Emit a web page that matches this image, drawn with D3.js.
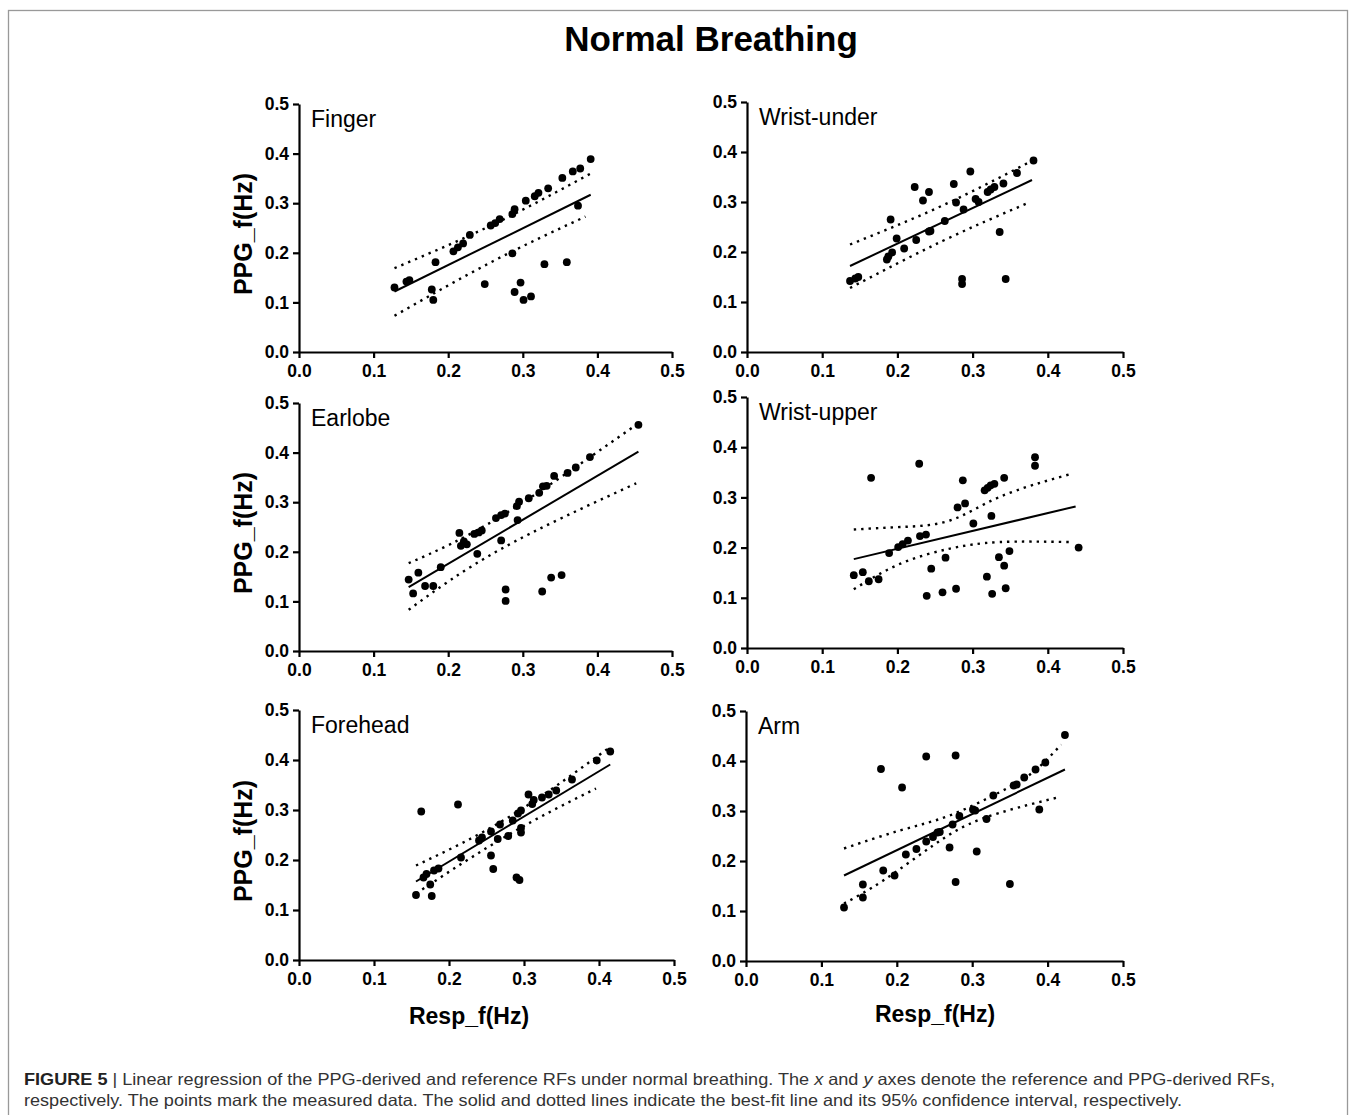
<!DOCTYPE html>
<html>
<head>
<meta charset="utf-8">
<script src="https://cdn.jsdelivr.net/npm/d3@7"></script>
<style>
body { margin: 0; background: #fff; }
svg text { font-family: Arial, "Liberation Sans", Helvetica, sans-serif; }
</style>
</head>
<body>
<div id="chart"></div>
<script>

// ---- data (Resp_f, PPG_f) ----
var fingerPts = [[0.128,0.130],[0.144,0.142],[0.148,0.145],[0.178,0.126],[0.180,0.105],[0.183,0.181],
    [0.207,0.203],[0.213,0.211],[0.220,0.219],[0.229,0.236],[0.249,0.137],[0.257,0.255],[0.263,0.260],
    [0.269,0.268],[0.286,0.278],[0.289,0.288],[0.286,0.199],[0.289,0.121],[0.297,0.140],[0.301,0.105],
    [0.311,0.112],[0.304,0.305],[0.316,0.314],[0.321,0.321],[0.329,0.177],[0.334,0.330],[0.353,0.351],
    [0.359,0.181],[0.367,0.364],[0.377,0.370],[0.374,0.295],[0.391,0.389]];
var fingerFit = [[0.128,0.122],[0.391,0.317]];
var fingerUpper = [[0.128,0.169],[0.26,0.257],[0.390,0.359]];
var fingerLower = [[0.128,0.073],[0.26,0.183],[0.384,0.273]];

var wristUnderPts = [[0.137,0.142],[0.144,0.147],[0.148,0.150],[0.186,0.185],[0.188,0.191],[0.193,0.199],
    [0.191,0.265],[0.199,0.227],[0.209,0.207],[0.223,0.330],[0.225,0.224],[0.234,0.303],[0.242,0.320],
    [0.242,0.241],[0.244,0.242],[0.263,0.262],[0.275,0.336],[0.278,0.299],[0.288,0.285],[0.286,0.146],
    [0.286,0.136],[0.297,0.361],[0.304,0.306],[0.308,0.300],[0.320,0.320],[0.324,0.325],[0.329,0.330],
    [0.336,0.240],[0.341,0.337],[0.344,0.146],[0.359,0.358],[0.381,0.383]];
var wristUnderFit = [[0.137,0.172],[0.379,0.344]];
var wristUnderUpper = [[0.137,0.215],[0.26,0.293],[0.381,0.384]];
var wristUnderLower = [[0.137,0.128],[0.26,0.222],[0.372,0.297]];

var earlobePts = [[0.147,0.144],[0.153,0.116],[0.160,0.158],[0.169,0.131],[0.180,0.131],[0.190,0.169],
    [0.215,0.238],[0.217,0.212],[0.221,0.221],[0.225,0.215],[0.235,0.236],[0.241,0.239],[0.245,0.243],
    [0.239,0.196],[0.264,0.268],[0.271,0.274],[0.276,0.277],[0.271,0.223],[0.277,0.124],[0.277,0.101],
    [0.292,0.292],[0.295,0.301],[0.293,0.264],[0.308,0.308],[0.322,0.319],[0.327,0.332],[0.332,0.333],
    [0.326,0.120],[0.338,0.148],[0.342,0.353],[0.352,0.153],[0.360,0.359],[0.371,0.370],[0.390,0.391],
    [0.455,0.456]];
var earlobeFit = [[0.147,0.129],[0.455,0.402]];
var earlobeUpper = [[0.147,0.177],[0.27,0.271],[0.452,0.456]];
var earlobeLower = [[0.147,0.083],[0.27,0.205],[0.452,0.338]];

var wristUpperPts = [[0.142,0.145],[0.154,0.151],[0.162,0.133],[0.165,0.339],[0.175,0.137],[0.189,0.189],
    [0.201,0.201],[0.207,0.207],[0.214,0.214],[0.229,0.367],[0.230,0.223],[0.238,0.226],[0.239,0.104],
    [0.245,0.158],[0.260,0.111],[0.264,0.180],[0.278,0.118],[0.280,0.280],[0.287,0.334],[0.290,0.288],
    [0.301,0.248],[0.316,0.314],[0.320,0.319],[0.324,0.324],[0.329,0.327],[0.319,0.142],[0.325,0.263],
    [0.326,0.108],[0.335,0.181],[0.342,0.339],[0.342,0.164],[0.344,0.119],[0.349,0.193],[0.383,0.380],
    [0.383,0.363],[0.441,0.200]];
var wristUpperFit = [[0.142,0.177],[0.437,0.282]];
var wristUpperUpper = [[0.142,0.236],[0.204,0.241],[0.270,0.254],[0.336,0.301],[0.429,0.346]];
var wristUpperLower = [[0.142,0.117],[0.204,0.168],[0.270,0.198],[0.336,0.211],[0.431,0.211]];

var foreheadPts = [[0.156,0.130],[0.163,0.297],[0.166,0.165],[0.170,0.172],[0.175,0.151],[0.177,0.128],
    [0.180,0.179],[0.186,0.183],[0.212,0.311],[0.216,0.205],[0.240,0.239],[0.244,0.245],[0.256,0.209],
    [0.256,0.257],[0.259,0.182],[0.265,0.242],[0.268,0.271],[0.279,0.248],[0.285,0.279],[0.290,0.165],
    [0.294,0.160],[0.292,0.293],[0.296,0.299],[0.296,0.264],[0.296,0.255],[0.306,0.331],[0.311,0.312],
    [0.313,0.320],[0.324,0.325],[0.333,0.331],[0.343,0.339],[0.364,0.361],[0.397,0.399],[0.415,0.417]];
var foreheadFit = [[0.156,0.157],[0.415,0.391]];
var foreheadUpper = [[0.156,0.189],[0.28,0.286],[0.414,0.425]];
var foreheadLower = [[0.156,0.133],[0.28,0.251],[0.396,0.343]];

var armPts = [[0.130,0.107],[0.155,0.153],[0.155,0.127],[0.179,0.384],[0.182,0.181],[0.197,0.171],
    [0.207,0.347],[0.212,0.213],[0.226,0.224],[0.239,0.409],[0.239,0.239],[0.248,0.248],[0.254,0.257],
    [0.257,0.258],[0.270,0.227],[0.274,0.273],[0.278,0.411],[0.278,0.158],[0.283,0.290],[0.301,0.303],
    [0.304,0.301],[0.306,0.219],[0.319,0.284],[0.328,0.331],[0.350,0.154],[0.355,0.351],[0.359,0.353],
    [0.369,0.367],[0.384,0.383],[0.389,0.303],[0.397,0.397],[0.423,0.452]];
var armFit = [[0.130,0.171],[0.423,0.383]];
var armUpper = [[0.130,0.225],[0.204,0.261],[0.270,0.291],[0.337,0.338],[0.381,0.378],[0.418,0.433]];
var armLower = [[0.130,0.115],[0.182,0.161],[0.248,0.231],[0.314,0.285],[0.416,0.328]];

var panelNames = ["Finger", "Wrist-under", "Earlobe", "Wrist-upper", "Forehead", "Arm"];
var tickValues = [0.0, 0.1, 0.2, 0.3, 0.4, 0.5];

var panelData = [
    {pts: fingerPts, fit: fingerFit, up: fingerUpper, lo: fingerLower},
    {pts: wristUnderPts, fit: wristUnderFit, up: wristUnderUpper, lo: wristUnderLower},
    {pts: earlobePts, fit: earlobeFit, up: earlobeUpper, lo: earlobeLower},
    {pts: wristUpperPts, fit: wristUpperFit, up: wristUpperUpper, lo: wristUpperLower},
    {pts: foreheadPts, fit: foreheadFit, up: foreheadUpper, lo: foreheadLower},
    {pts: armPts, fit: armFit, up: armUpper, lo: armLower}
];

// plot frame of each panel (left, top, right, bottom) in px
var layout = [
    [299, 104, 672, 352], [747, 102, 1123, 352],
    [299, 403, 672, 651], [747, 397, 1123, 648],
    [299, 710, 674, 960], [746, 711, 1123, 961]
];

var W = 1355, H = 1115;

var svg = d3.select("#chart").append("svg")
    .attr("width", W)
    .attr("height", H);

svg.append("rect")
    .attr("width", W).attr("height", H)
    .attr("fill", "#fff");

// outer frame
svg.append("rect")
    .attr("x", 8.5).attr("y", 10.5)
    .attr("width", 1339).attr("height", 1130)
    .attr("fill", "none")
    .attr("stroke", "#999")
    .attr("stroke-width", 1.3);

svg.append("text")
    .attr("x", 711).attr("y", 51)
    .attr("text-anchor", "middle")
    .style("font-size", "35px")
    .style("font-weight", "bold")
    .text("Normal Breathing");

panelData.forEach(function(d, i) {
    var box = layout[i];
    var x = d3.scaleLinear().domain([0, 0.5]).range([box[0], box[2]]);
    var y = d3.scaleLinear().domain([0, 0.5]).range([box[3], box[1]]);

    var g = svg.append("g").attr("class", "panel");

    var xAxis = g.append("g")
        .attr("transform", "translate(0," + box[3] + ")")
        .call(d3.axisBottom(x).tickValues(tickValues).tickFormat(d3.format(".1f"))
            .tickSize(6).tickSizeOuter(0).tickPadding(7));

    var yAxis = g.append("g")
        .attr("transform", "translate(" + box[0] + ",0)")
        .call(d3.axisLeft(y).tickValues(tickValues).tickFormat(d3.format(".1f"))
            .tickSize(6).tickSizeOuter(0).tickPadding(4));

    [xAxis, yAxis].forEach(function(a) {
        a.select(".domain").attr("stroke", "#000").attr("stroke-width", 2.2);
        a.selectAll(".tick line").attr("stroke", "#000").attr("stroke-width", 2.2);
        a.selectAll(".tick text")
            .attr("fill", "#000")
            .style("font-size", "17.5px")
            .style("font-weight", "bold")
            .style("font-family", "Arial, 'Liberation Sans', sans-serif");
    });

    var line = d3.line()
        .x(function(p) { return x(p[0]); })
        .y(function(p) { return y(p[1]); });

    var curve = d3.line()
        .x(function(p) { return x(p[0]); })
        .y(function(p) { return y(p[1]); })
        .curve(d3.curveNatural);

    // confidence band (dotted)
    [d.up, d.lo].forEach(function(c) {
        g.append("path")
            .attr("d", curve(c))
            .attr("fill", "none")
            .attr("stroke", "#000")
            .attr("stroke-width", 2.4)
            .attr("stroke-dasharray", "2.4,5");
    });

    // best fit line
    g.append("path")
        .attr("d", line(d.fit))
        .attr("fill", "none")
        .attr("stroke", "#000")
        .attr("stroke-width", 2);

    g.selectAll("circle")
        .data(d.pts)
        .enter().append("circle")
        .attr("cx", function(p) { return x(p[0]); })
        .attr("cy", function(p) { return y(p[1]); })
        .attr("r", 3.9)
        .attr("fill", "#000");

    g.append("text")
        .attr("x", box[0] + 12)
        .attr("y", box[1] + 23)
        .style("font-size", "23px")
        .text(panelNames[i]);

    if (i % 2 === 0) {
        var cy = (box[1] + box[3]) / 2 + 6;
        g.append("text")
            .attr("transform", "translate(252," + cy + ") rotate(-90)")
            .attr("text-anchor", "middle")
            .style("font-size", "25px")
            .style("font-weight", "bold")
            .text("PPG_f(Hz)");
    }
});

// x axis titles
svg.append("text")
    .attr("x", 469).attr("y", 1024)
    .attr("text-anchor", "middle")
    .style("font-size", "23px").style("font-weight", "bold")
    .text("Resp_f(Hz)");
svg.append("text")
    .attr("x", 935).attr("y", 1022)
    .attr("text-anchor", "middle")
    .style("font-size", "23px").style("font-weight", "bold")
    .text("Resp_f(Hz)");

// caption
var cap1 = svg.append("text")
    .attr("x", 24).attr("y", 1085)
    .attr("textLength", 1251)
    .attr("lengthAdjust", "spacingAndGlyphs")
    .style("font-size", "16.5px")
    .attr("fill", "#333");
cap1.append("tspan").style("font-weight", "bold").attr("fill", "#222").text("FIGURE 5 ");
cap1.append("tspan").text("|  Linear regression of the PPG-derived and reference RFs under normal breathing. The ");
cap1.append("tspan").style("font-style", "italic").text("x");
cap1.append("tspan").text(" and ");
cap1.append("tspan").style("font-style", "italic").text("y");
cap1.append("tspan").text(" axes denote the reference and PPG-derived RFs,");

svg.append("text")
    .attr("x", 24).attr("y", 1106)
    .attr("textLength", 1158)
    .attr("lengthAdjust", "spacingAndGlyphs")
    .style("font-size", "16.5px")
    .attr("fill", "#333")
    .text("respectively. The points mark the measured data. The solid and dotted lines indicate the best-fit line and its 95% confidence interval, respectively.");

</script>
</body>
</html>
